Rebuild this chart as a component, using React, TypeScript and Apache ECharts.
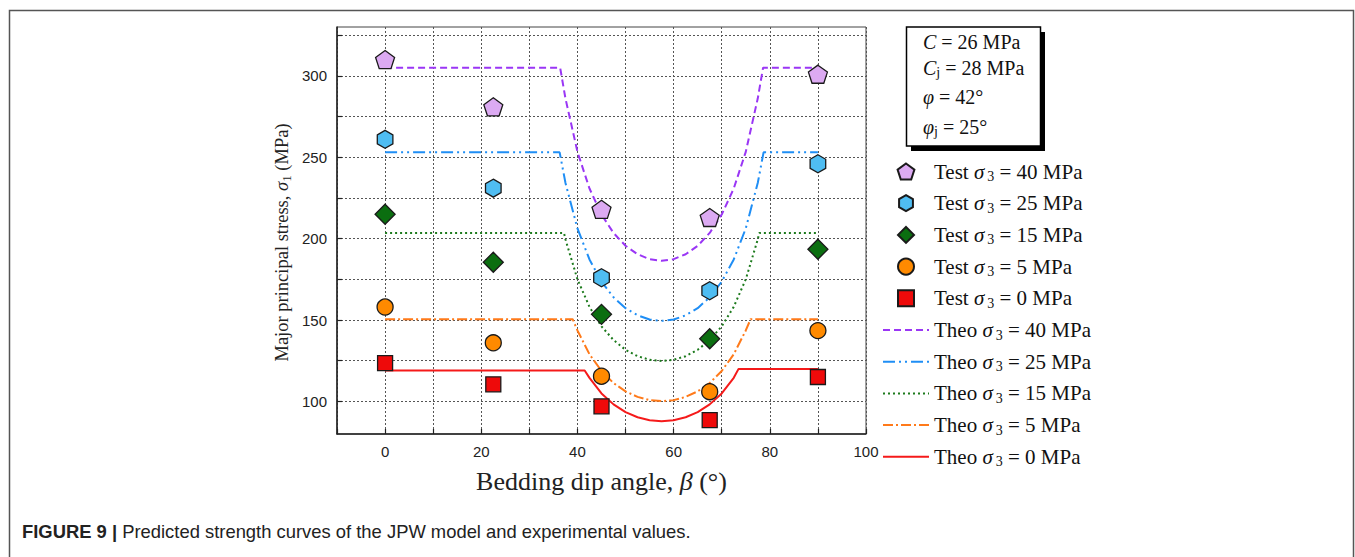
import React, { useEffect, useRef } from 'react';
import * as echarts from 'echarts';

// ---- data ----
const testBeta = [0, 22.5, 45, 67.5, 90];
const test40 = [310, 281, 218, 213, 301];
const test25 = [261, 231, 176, 168, 246];
const test15 = [215, 185.5, 153.5, 138.5, 193.5];
const test5 = [158, 136, 115.5, 106, 143.5];
const test0 = [123.5, 110.5, 97, 88.5, 115];

const theo40Beta = [0, 36.4, 37.5, 40, 42.5, 45, 47.5, 50, 52.5, 55, 57.5, 60, 62.5, 65, 67.5, 70, 72.5, 75, 77.5, 78.6, 90];
const theo40 = [305, 305, 286.2, 253.3, 230.8, 214.8, 203.5, 195.6, 190.4, 187.4, 186.4, 187.4, 190.4, 195.6, 203.5, 214.8, 230.8, 253.3, 286.2, 305, 305];
const theo25Beta = [0, 36.3, 37.5, 40, 42.5, 45, 47.5, 50, 52.5, 55, 57.5, 60, 62.5, 65, 67.5, 70, 72.5, 75, 77.5, 78.7, 90];
const theo25 = [253, 253, 234.3, 206.3, 187.2, 173.6, 164.0, 157.3, 152.9, 150.3, 149.5, 150.3, 152.9, 157.3, 164.0, 173.6, 187.2, 206.3, 234.3, 253, 253];
const theo15Beta = [0, 37.2, 37.5, 40, 42.5, 45, 47.5, 50, 52.5, 55, 57.5, 60, 62.5, 65, 67.5, 70, 72.5, 75, 77.5, 77.8, 90];
const theo15 = [203.5, 203.5, 199.6, 175.0, 158.1, 146.1, 137.7, 131.7, 127.8, 125.6, 124.8, 125.6, 127.8, 131.7, 137.7, 146.1, 158.1, 175.0, 199.6, 203.5, 203.5];
const theo5Beta = [0, 39, 40, 42.5, 45, 47.5, 50, 52.5, 55, 57.5, 60, 62.5, 65, 67.5, 70, 72.5, 75, 76, 90];
const theo5 = [150.5, 150.5, 143.6, 129.0, 118.7, 111.3, 106.2, 102.8, 100.8, 100.2, 100.8, 102.8, 106.2, 111.3, 118.7, 129.0, 143.6, 150.5, 150.5];
const theo0Beta = [0, 41.5, 42.5, 45, 47.5, 50, 52.5, 55, 57.5, 60, 62.5, 65, 67.5, 70, 72.5, 73.5, 90];
const theo0 = [119, 119, 114.5, 104.9, 98.2, 93.4, 90.3, 88.5, 87.9, 88.5, 90.3, 93.4, 98.2, 104.9, 114.5, 120, 120];

const yLabelValues = [100, 150, 200, 250, 300];
const yGridValues = [100, 125, 150, 175, 200, 225, 250, 275, 300, 325];

const testNames = ['Test σ3 = 40 MPa', 'Test σ3 = 25 MPa', 'Test σ3 = 15 MPa', 'Test σ3 = 5 MPa', 'Test σ3 = 0 MPa'];
const theoNames = ['Theo σ3 = 40 MPa', 'Theo σ3 = 25 MPa', 'Theo σ3 = 15 MPa', 'Theo σ3 = 5 MPa', 'Theo σ3 = 0 MPa'];

const SERIF = 'Liberation Serif';
const SANS = 'Liberation Sans';

const PENTAGON = 'path://M0,-10 L9.51,-3.09 L5.88,8.09 L-5.88,8.09 L-9.51,-3.09 Z';
const HEXAGON = 'path://M0,-10 L8.66,-5 L8.66,5 L0,10 L-8.66,5 L-8.66,-5 Z';
const DIAMOND = 'path://M0,-10 L10,0 L0,10 L-10,0 Z';
const SQUARE = 'path://M-10,-10 L10,-10 L10,10 L-10,10 Z';

const zip = (xs: number[], ys: number[]) => xs.map((x, i) => [x, ys[i]]);

function buildOption() {
  const scatterDefs = [
    { name: testNames[0], data: test40, symbol: PENTAGON, size: 19, color: '#dcaaf2' },
    { name: testNames[1], data: test25, symbol: HEXAGON, size: 18, color: '#4fbdf2' },
    { name: testNames[2], data: test15, symbol: DIAMOND, size: 20, color: '#0b6e10' },
    { name: testNames[3], data: test5, symbol: 'circle', size: 16, color: '#ff8a00' },
    { name: testNames[4], data: test0, symbol: SQUARE, size: 15, color: '#ee0a0a' },
  ];
  const lineDefs = [
    { name: theoNames[0], xs: theo40Beta, ys: theo40, color: '#9a36f5', type: [7, 4] },
    { name: theoNames[1], xs: theo25Beta, ys: theo25, color: '#1f8ef5', type: [12, 4, 2, 4, 2, 4] },
    { name: theoNames[2], xs: theo15Beta, ys: theo15, color: '#1c7a1c', type: [2, 3] },
    { name: theoNames[3], xs: theo5Beta, ys: theo5, color: '#ff7a1a', type: [10, 3, 2, 3] },
    { name: theoNames[4], xs: theo0Beta, ys: theo0, color: '#f51a1a', type: 'solid' },
  ];

  const series: any[] = [];
  lineDefs.forEach((d) => {
    series.push({
      name: d.name,
      type: 'line',
      data: zip(d.xs, d.ys),
      symbol: 'none',
      showSymbol: false,
      smooth: false,
      z: 2,
      itemStyle: { color: d.color },
      lineStyle: { color: d.color, width: 2, type: d.type },
    });
  });
  scatterDefs.forEach((d) => {
    series.push({
      name: d.name,
      type: 'scatter',
      data: zip(testBeta, d.data),
      symbol: d.symbol,
      symbolSize: d.size,
      symbolKeepAspect: true,
      z: 3,
      itemStyle: { color: d.color, borderColor: '#1a1a1a', borderWidth: 1.3, opacity: 1 },
    });
  });

  const legendFmt = (name: string) => {
    const parts = name.split('σ3');
    return `{t|${parts[0]}}{s|σ}{sub|3}{t|${parts[1]}}`;
  };
  const legendRich = {
    t: { fontFamily: SERIF, fontSize: 21, color: '#111', lineHeight: 24 },
    s: { fontFamily: SERIF, fontStyle: 'italic', fontSize: 21, color: '#111', lineHeight: 24, padding: [0, 3, 0, 0] },
    sub: { fontFamily: SERIF, fontSize: 14, color: '#111', lineHeight: 13, verticalAlign: 'bottom' },
  };

  return {
    animation: false,
    backgroundColor: '#fff',
    textStyle: { fontFamily: SERIF },
    grid: {
      left: 337,
      right: 489,
      top: 27,
      bottom: 123,
      show: true,
      borderColor: '#444',
      borderWidth: 1,
      backgroundColor: 'transparent',
    },
    xAxis: {
      type: 'value',
      min: -10,
      max: 100,
      interval: 10,
      name: 'Bedding dip angle, {s|β} (°)',
      nameLocation: 'middle',
      nameGap: 34,
      nameTextStyle: {
        fontFamily: SERIF,
        fontSize: 26,
        color: '#222',
        rich: {
          s: { fontFamily: SERIF, fontStyle: 'italic', fontSize: 26, color: '#222' },
        },
      },
      axisLine: { show: true, onZero: false, lineStyle: { color: '#222', width: 1.5 } },
      axisTick: { show: true, inside: true, length: 5, lineStyle: { color: '#222', width: 1.2 } },
      axisLabel: {
        interval: 0,
        fontFamily: SANS,
        fontSize: 15,
        color: '#222',
        margin: 10,
        formatter: (v: number) => (v >= 0 && v % 20 === 0 ? String(v) : ''),
      },
      splitLine: { show: true, lineStyle: { color: '#555', type: [2, 2], width: 1 } },
    },
    yAxis: {
      type: 'value',
      min: 80,
      max: 330,
      name: 'Major principal stress, {s|σ}{sub|1} (MPa)',
      nameLocation: 'middle',
      nameGap: 44,
      nameTextStyle: {
        fontFamily: SERIF,
        fontSize: 18.5,
        color: '#222',
        lineHeight: 22,
        padding: [0, 24, 0, 0],
        rich: {
          s: { fontFamily: SERIF, fontStyle: 'italic', fontSize: 18.5, color: '#222', lineHeight: 22 },
          sub: { fontFamily: SERIF, fontSize: 13, color: '#222', lineHeight: 12, verticalAlign: 'bottom' },
        },
      },
      axisLine: { show: true, onZero: false, lineStyle: { color: '#222', width: 1.5 } },
      axisTick: { show: true, inside: true, length: 5, customValues: yGridValues, lineStyle: { color: '#222', width: 1.2 } },
      axisLabel: { customValues: yLabelValues, fontFamily: SANS, fontSize: 15, color: '#222', margin: 10 },
      splitLine: { show: true, lineStyle: { color: '#555', type: [2, 2], width: 1 } },
    },
    legend: {
      orient: 'vertical',
      left: 877,
      top: 156,
      itemWidth: 46,
      itemHeight: 16,
      itemGap: 9.2,
      symbolKeepAspect: true,
      data: [
        ...testNames.map((n) => ({ name: n })),
        ...theoNames.map((n) => ({ name: n, itemStyle: { opacity: 0 } })),
      ],
      formatter: legendFmt,
      textStyle: { fontFamily: SERIF, fontSize: 21, color: '#111', rich: legendRich },
    },
    graphic: [
      {
        type: 'polyline',
        shape: { points: [[9.5, 557], [9.5, 10.5], [1353.5, 10.5], [1353.5, 557]] },
        style: { stroke: '#555', lineWidth: 1.5, fill: 'none' },
        silent: true,
      },
      {
        type: 'rect',
        shape: { x: 911, y: 32, width: 134, height: 119 },
        style: { fill: '#000' },
      },
      {
        type: 'rect',
        shape: { x: 906.5, y: 27, width: 134, height: 119 },
        style: { fill: '#fff', stroke: '#000', lineWidth: 1.5 },
      },
      ...[
        { y: 42, text: '{i|C} = 26 MPa' },
        { y: 68, text: '{i|C}{sub|j} = 28 MPa' },
        { y: 97, text: '{i|φ} = 42°' },
        { y: 127, text: '{i|φ}{sub|j} = 25°' },
      ].map((l) => ({
        type: 'text',
        x: 923,
        y: l.y,
        style: {
          text: l.text,
          fontFamily: SERIF,
          fontSize: 20,
          fill: '#111',
          verticalAlign: 'middle',
          rich: {
            i: { fontFamily: SERIF, fontStyle: 'italic', fontSize: 20, fill: '#111', lineHeight: 22 },
            sub: { fontFamily: SERIF, fontSize: 14, fill: '#111', lineHeight: 12, verticalAlign: 'bottom' },
          },
        },
      })),
      {
        type: 'text',
        x: 22,
        y: 531,
        style: {
          text: '{b|FIGURE 9 |} Predicted strength curves of the JPW model and experimental values.',
          fontFamily: SANS,
          fontSize: 18.4,
          fill: '#222',
          verticalAlign: 'middle',
          rich: {
            b: { fontFamily: SANS, fontWeight: 'bold', fontSize: 18.4, fill: '#222' },
          },
        },
      },
    ],
    series,
  };
}

export default function App() {
  const ref = useRef<HTMLDivElement>(null);
  useEffect(() => {
    if (!ref.current) return;
    const chart = echarts.init(ref.current, null, { renderer: 'svg' });
    chart.setOption(buildOption() as any);
    return () => chart.dispose();
  }, []);
  return (
    <div
      ref={ref}
      style={{ position: 'fixed', left: 0, top: 0, width: 1355, height: 557, background: '#fff' }}
    />
  );
}
